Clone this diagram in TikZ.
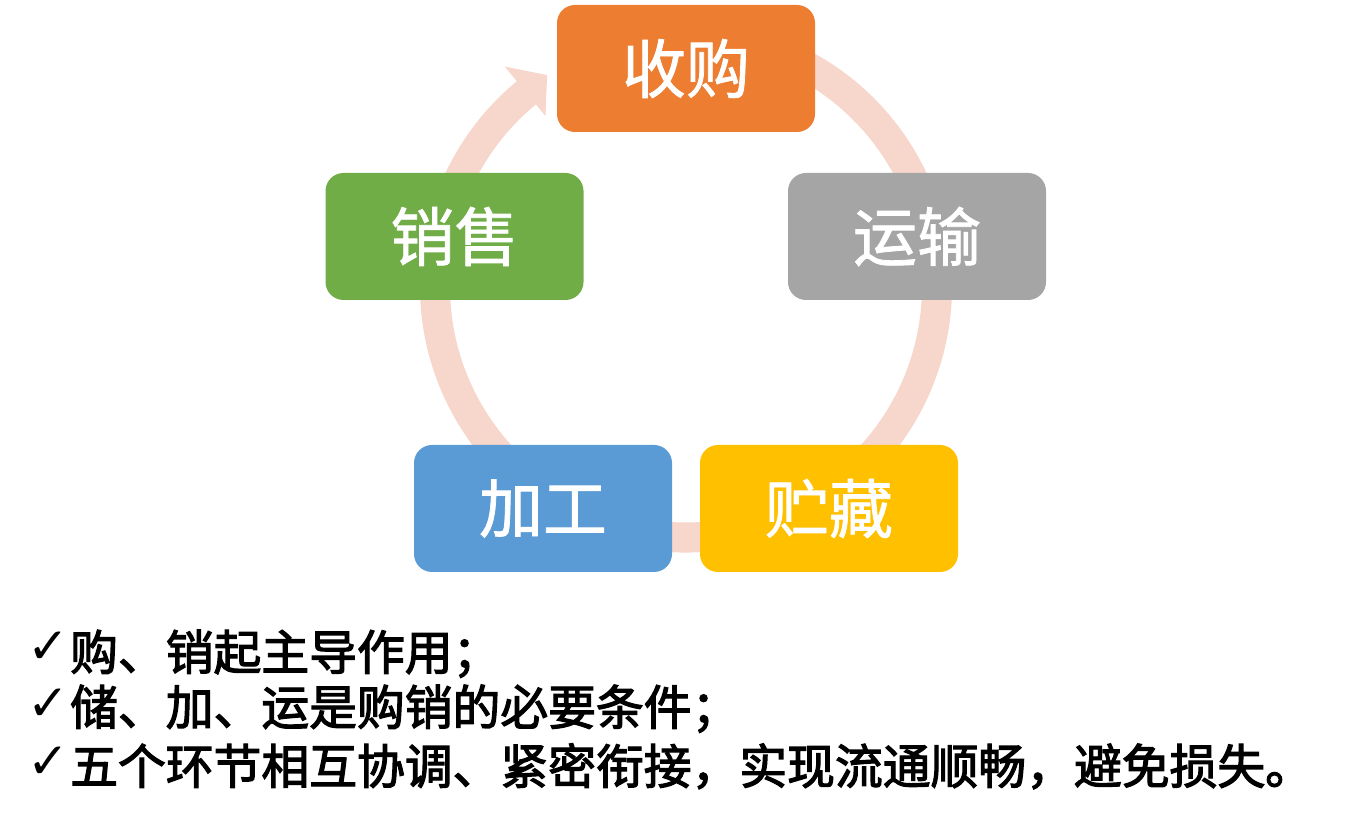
\documentclass[tikz,border=0pt]{standalone}
\usepackage{fontspec}
\newfontfamily\cjk{Noto Sans CJK SC}
\newfontfamily\cjkbox{Noto Sans CJK SC}[FakeBold=1.2]
\newfontfamily\cjktxt{Noto Sans CJK SC}[FakeBold=2.5]
\newfontfamily\sym{DejaVu Sans}
\definecolor{orangeC}{HTML}{ED7D31}
\definecolor{grayC}{HTML}{A5A5A5}
\definecolor{yellowC}{HTML}{FFC000}
\definecolor{blueC}{HTML}{5B9BD5}
\definecolor{greenC}{HTML}{70AD47}
\definecolor{ringC}{HTML}{F7D6CB}
\begin{document}
\begin{tikzpicture}[x=1pt,y=1pt,
  box/.style={fill=#1, rounded corners=18pt, minimum width=258pt, minimum height=127pt,
    inner sep=0pt, text=white, font=\cjkbox\fontsize{64}{64}\selectfont},
  ring/.style={fill=ringC},
  chk/.style={anchor=base west, inner sep=0pt, font=\sym\bfseries\fontsize{50}{50}\selectfont},
  lineT/.style={anchor=base west, inner sep=0pt, font=\cjktxt\fontsize{47.8}{47.8}\selectfont}]
\useasboundingbox (0,0) rectangle (1350,820);
% ring with arrow head
\begin{scope}[shift={(686,533.5)}]
\fill[ring] (70:266) arc[start angle=70,end angle=-230.5,radius=266]
  -- (-230.5:285) -- (-236.7:253) -- (-230.5:221) -- (-230.5:236)
  arc[start angle=-230.5,end angle=70,radius=236] -- cycle;
\end{scope}
% boxes
\node[box=orangeC] (sg) at (686,751.5) {收购};
\node[box=grayC]   (ys) at (917,583.5) {运输};
\node[box=yellowC] (zc) at (829,311.5) {贮藏};
\node[box=blueC]   (jg) at (543,311.5) {加工};
\node[box=greenC]  (xs) at (454.5,583.5) {销售};
% text lines
\node[chk] (c1) at (27,157) {✓};
\node[chk] (c2) at (27,99.5) {✓};
\node[chk] (c3) at (27,42) {✓};
\node[lineT] (t1) at (70,150) {购、销起主导作用；};
\node[lineT] (t2) at (70,95) {储、加、运是购销的必要条件；};
\node[lineT] (t3) at (70,36) {五个环节相互协调、紧密衔接，实现流通顺畅，避免损失。};
\end{tikzpicture}
\end{document}
